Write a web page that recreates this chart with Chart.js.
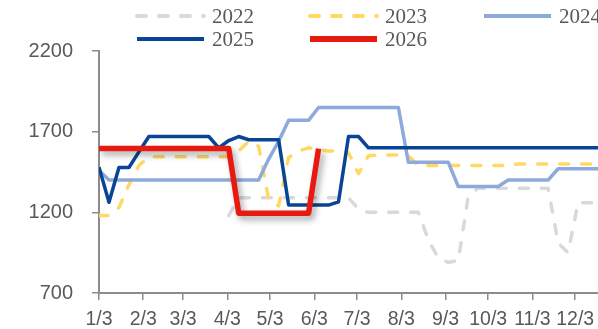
<!DOCTYPE html>
<html lang="zh">
<head>
<meta charset="UTF-8">
<title>价格走势</title>
<script src="https://cdn.jsdelivr.net/npm/chart.js@4.4.0/dist/chart.umd.min.js"></script>
<style>
  html, body { margin: 0; padding: 0; background: #fff; }
  #wrap { position: relative; width: 598px; height: 329px; }
</style>
</head>
<body>
<div id="wrap"><canvas id="chart"></canvas></div>
<script>
// weekly sample days (day of year), starting 1/3
const days = [3, 10, 17, 24, 31, 38, 45, 52, 59, 66, 73, 80, 87, 94, 101, 108, 115,
  122, 129, 136, 143, 150, 157, 164, 171, 178, 185, 192, 199, 206, 213, 220, 227,
  234, 241, 248, 255, 262, 269, 276, 283, 290, 297, 304, 311, 318, 325, 332, 339, 346, 353];

// month ticks on the x axis
const monthDays = [3, 34, 62, 93, 123, 154, 184, 215, 246, 276, 307, 337];
const monthLabels = ['1/3', '2/3', '3/3', '4/3', '5/3', '6/3', '7/3', '8/3', '9/3', '10/3', '11/3', '12/3'];

const years = ['2022', '2023', '2024', '2025', '2026'];

const v2022 = [null, null, null, null, null, null, null, null, null, null, null, null, null,
  1180, 1290, 1290, 1290, 1290, 1290, 1290, 1290, 1290, 1290, 1290, 1290, 1290,
  1220, 1200, 1200, 1200, 1200, 1200, 1200, 1030, 915, 890, 900, 1300,
  1350, 1350, 1350, 1350, 1350, 1350, 1350, 1350, 1010, 950, 1260, 1260, 1260];
const v2023 = [1180, 1180, 1230, 1370, 1490, 1545, 1545, 1545, 1545, 1545, 1545, 1545, 1545, 1545,
  1580, 1640, 1610, 1280, 1240, 1540, 1580, 1600, 1590, 1580, 1580, 1570, 1440, 1550,
  1555, 1555, 1555, 1550, 1490, 1490, 1490, 1490, 1490, 1490, 1490, 1490, 1490, 1490,
  1500, 1500, 1500, 1500, 1500, 1500, 1500, 1500, 1500];
const v2024 = [1460, 1400, 1400, 1400, 1400, 1400, 1400, 1400, 1400, 1400, 1400, 1400, 1400, 1400,
  1400, 1400, 1400, 1530, 1640, 1770, 1770, 1770, 1850, 1850, 1850, 1850, 1850, 1850,
  1850, 1850, 1850, 1510, 1510, 1510, 1510, 1510, 1360, 1360, 1360, 1360, 1360,
  1400, 1400, 1400, 1400, 1400, 1470, 1470, 1470, 1470, 1470];
const v2025 = [1480, 1262, 1478, 1478, 1575, 1670, 1670, 1670, 1670, 1670, 1670, 1670,
  1600, 1645, 1670, 1650, 1650, 1650, 1650, 1245, 1245, 1245, 1245, 1245, 1265, 1670, 1670,
  1600, 1600, 1600, 1600, 1600, 1600, 1600, 1600, 1600, 1600, 1600, 1600, 1600, 1600,
  1600, 1600, 1600, 1600, 1600, 1600, 1600, 1600, 1600, 1600];
const v2026 = [1595, 1595, 1595, 1595, 1595, 1595, 1595, 1595, 1595, 1595, 1595, 1595, 1595, 1595,
  1195, 1195, 1195, 1195, 1195, 1195, 1195, 1195, 1595];

function points(values) {
  return values.map((v, i) => ({ x: days[i], y: v }));
}

const axisGrey = '#8c8c8c';
const textGrey = '#595959';

// legend slots: [line start x, centre y]
const legendSlots = [[135, 16], [308, 16], [482, 16], [135, 39], [308, 39]];

const rowLegend = {
  id: 'rowLegend',
  afterDraw(chart) {
    const ctx = chart.ctx;
    chart.data.datasets.forEach((ds, i) => {
      const [lx, ly] = legendSlots[i];
      ctx.save();
      ctx.strokeStyle = ds.borderColor;
      ctx.lineWidth = ds.borderWidth + 0.5;
      ctx.lineCap = ds.borderCapStyle || 'butt';
      ctx.setLineDash(ds.borderDash || []);
      ctx.beginPath();
      ctx.moveTo(lx + 2, ly);
      ctx.lineTo(lx + 69, ly);
      ctx.stroke();
      ctx.setLineDash([]);
      ctx.fillStyle = textGrey;
      ctx.font = '21px "Liberation Serif"';
      ctx.textBaseline = 'middle';
      ctx.fillText(ds.label, lx + 77, ly + 1);
      ctx.restore();
    });
  }
};

const redShadow = {
  id: 'redShadow',
  beforeDatasetDraw(chart, args) {
    if (args.index !== 4) return;
    const ctx = chart.ctx;
    ctx.save();
    ctx.shadowColor = 'rgba(0,0,0,0.35)';
    ctx.shadowBlur = 6;
    ctx.shadowOffsetX = 3;
    ctx.shadowOffsetY = 4;
  },
  afterDatasetDraw(chart, args) {
    if (args.index === 4) chart.ctx.restore();
  }
};

const dashed = [9, 13];

new Chart(document.getElementById('chart'), {
  type: 'line',
  data: {
    datasets: [
      { label: years[0], data: points(v2022), borderColor: '#d9d9d9', borderWidth: 3.5, borderDash: dashed, borderCapStyle: 'round', order: 4 },
      { label: years[1], data: points(v2023), borderColor: '#ffd966', borderWidth: 3.5, borderDash: dashed, borderCapStyle: 'round', order: 3 },
      { label: years[2], data: points(v2024), borderColor: '#8eaadc', borderWidth: 3.5, order: 2 },
      { label: years[3], data: points(v2025), borderColor: '#0a4595', borderWidth: 3.5, order: 1 },
      { label: years[4], data: points(v2026), borderColor: '#e8190f', borderWidth: 5.5, order: 0 }
    ]
  },
  options: {
    responsive: true,
    maintainAspectRatio: false,
    animation: false,
    layout: { padding: { top: 51, right: 0, left: 0, bottom: 0 } },
    elements: {
      point: { radius: 0 },
      line: { tension: 0, borderJoinStyle: 'round', fill: false }
    },
    plugins: {
      legend: { display: false },
      tooltip: { enabled: false }
    },
    scales: {
      x: {
        type: 'linear',
        min: 3,
        max: 353,
        afterBuildTicks: s => { s.ticks = monthDays.map(v => ({ value: v })); },
        afterFit: s => { s.height = 36; s.paddingRight = 0; },
        ticks: {
          autoSkip: false,
          maxRotation: 0,
          padding: 8,
          color: textGrey,
          font: { family: '"Liberation Sans", Arial', size: 19.5 },
          callback: (v, i) => monthLabels[i]
        },
        grid: { drawOnChartArea: false, tickLength: 7, color: axisGrey, lineWidth: 1.5 },
        border: { color: axisGrey, width: 2 }
      },
      y: {
        min: 700,
        max: 2200,
        afterFit: s => { s.width = 99; },
        ticks: {
          stepSize: 500,
          padding: 19,
          color: textGrey,
          font: { family: '"Liberation Sans", Arial', size: 20 },
          callback: v => String(v)
        },
        grid: { drawOnChartArea: false, tickLength: 7, color: axisGrey, lineWidth: 1.5 },
        border: { color: axisGrey, width: 2 }
      }
    }
  },
  plugins: [redShadow, rowLegend]
});
</script>
</body>
</html>
